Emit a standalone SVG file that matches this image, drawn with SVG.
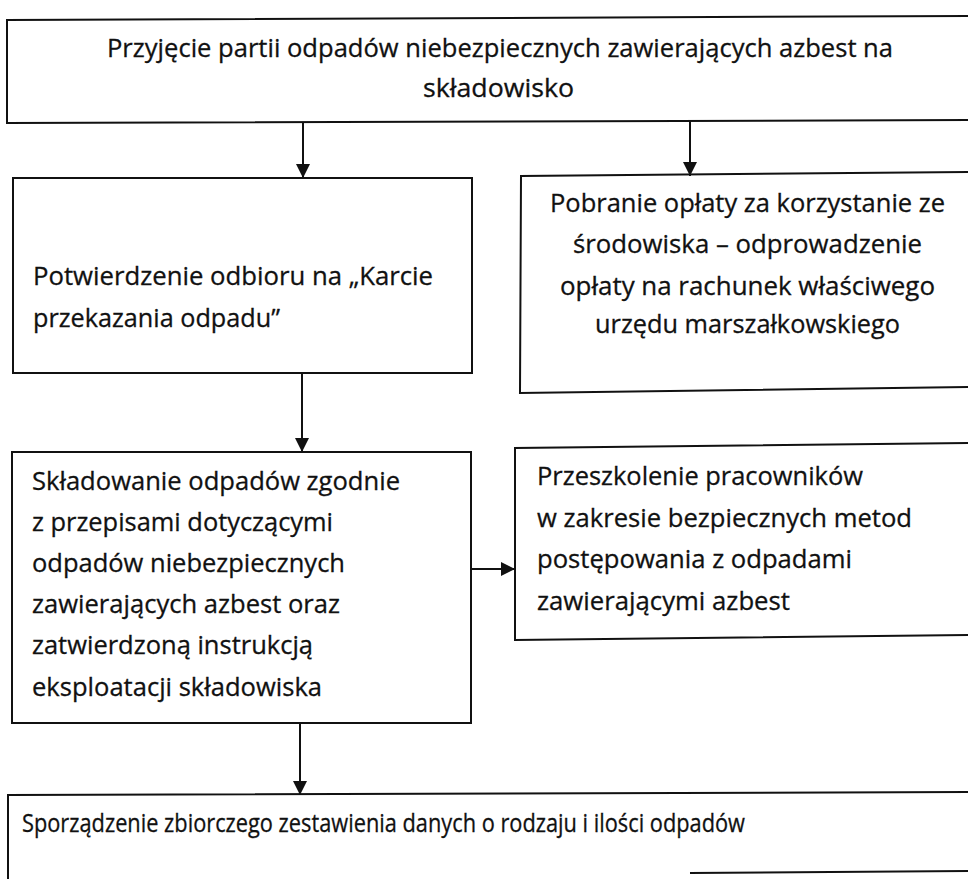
<svg xmlns="http://www.w3.org/2000/svg" width="968" height="879" viewBox="0 0 968 879">
<defs>
<style>
.box{fill:none;stroke:#111;stroke-width:2}
.conn{fill:none;stroke:#111;stroke-width:2}
text{font-family:"Open Sans","Liberation Sans",sans-serif;font-size:26px;fill:#111;stroke:#111;stroke-width:0.3}
</style>
<marker id="ah" viewBox="0 0 14 14" refX="14" refY="7" markerWidth="14" markerHeight="14" markerUnits="userSpaceOnUse" orient="auto">
<path d="M0,0 L14,7 L0,14 Z" fill="#111"/>
</marker>
</defs>
<rect width="968" height="879" fill="#fff"/>
<g id="n1">
<path class="box" d="M970,16 L7,20 L7,123 L970,120"/>
<text x="107" y="57" textLength="786" lengthAdjust="spacingAndGlyphs">Przyjęcie partii odpadów niebezpiecznych zawierających azbest na</text>
<text x="423" y="97" textLength="151" lengthAdjust="spacingAndGlyphs">składowisko</text>
</g>
<g id="n2">
<rect class="box" x="13" y="178" width="459" height="195"/>
<text x="33" y="285" textLength="400" lengthAdjust="spacingAndGlyphs">Potwierdzenie odbioru na „Karcie</text>
<text x="33" y="327" textLength="247" lengthAdjust="spacingAndGlyphs">przekazania odpadu”</text>
</g>
<g id="n3">
<path class="box" d="M970,172 L521,176 L520,393 L970,387"/>
<text x="550" y="212" textLength="395" lengthAdjust="spacingAndGlyphs">Pobranie opłaty za korzystanie ze</text>
<text x="573" y="253" textLength="349" lengthAdjust="spacingAndGlyphs">środowiska – odprowadzenie</text>
<text x="560" y="295" textLength="375" lengthAdjust="spacingAndGlyphs">opłaty na rachunek właściwego</text>
<text x="595" y="333" textLength="305" lengthAdjust="spacingAndGlyphs">urzędu marszałkowskiego</text>
</g>
<g id="n4">
<rect class="box" x="12" y="452" width="459" height="271"/>
<text x="32" y="490" textLength="368" lengthAdjust="spacingAndGlyphs">Składowanie odpadów zgodnie</text>
<text x="32" y="531" textLength="301" lengthAdjust="spacingAndGlyphs">z przepisami dotyczącymi</text>
<text x="32" y="572" textLength="313" lengthAdjust="spacingAndGlyphs">odpadów niebezpiecznych</text>
<text x="32" y="613" textLength="308" lengthAdjust="spacingAndGlyphs">zawierających azbest oraz</text>
<text x="32" y="654" textLength="281" lengthAdjust="spacingAndGlyphs">zatwierdzoną instrukcją</text>
<text x="32" y="696" textLength="290" lengthAdjust="spacingAndGlyphs">eksploatacji składowiska</text>
</g>
<g id="n5">
<path class="box" d="M970,443 L515,448 L515,640 L970,635"/>
<text x="537" y="485" textLength="326" lengthAdjust="spacingAndGlyphs">Przeszkolenie pracowników</text>
<text x="537" y="527" textLength="375" lengthAdjust="spacingAndGlyphs">w zakresie bezpiecznych metod</text>
<text x="537" y="568" textLength="315" lengthAdjust="spacingAndGlyphs">postępowania z odpadami</text>
<text x="537" y="610" textLength="253" lengthAdjust="spacingAndGlyphs">zawierającymi azbest</text>
</g>
<g id="n6">
<path class="box" d="M970,792 L8,795 L8,880"/>
<path class="box" d="M690,873 L970,871"/>
<text x="22" y="832" textLength="723" lengthAdjust="spacingAndGlyphs">Sporządzenie zbiorczego zestawienia danych o rodzaju i ilości odpadów</text>
</g>
<g id="connectors">
<path class="conn" d="M303,123 L303,178" marker-end="url(#ah)"/>
<path class="conn" d="M690,121 L690,176" marker-end="url(#ah)"/>
<path class="conn" d="M302,373 L302,452" marker-end="url(#ah)"/>
<path class="conn" d="M471,569 L515,569" marker-end="url(#ah)"/>
<path class="conn" d="M300,723 L300,795" marker-end="url(#ah)"/>
</g>
</svg>
